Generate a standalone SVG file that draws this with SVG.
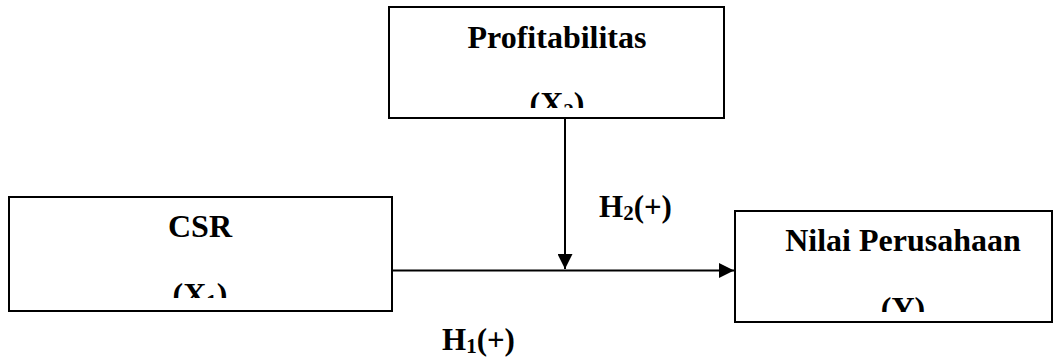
<svg xmlns="http://www.w3.org/2000/svg" width="1060" height="361" viewBox="0 0 1060 361">
<style>
.box{fill:#fff;stroke:#000;stroke-width:2}
.t{font-family:"Liberation Serif","Times New Roman",serif;font-weight:bold;font-size:32px;fill:#000;text-anchor:middle}
.h{font-family:"Liberation Serif","Times New Roman",serif;font-weight:bold;font-size:31px;fill:#000}
.ln{stroke:#000;stroke-width:2;fill:none}
</style>
<defs>
<marker id="arr" viewBox="0 0 10 10" refX="10" refY="5" markerWidth="8" markerHeight="8" markerUnits="userSpaceOnUse" orient="auto">
<path d="M0,0 L10,5 L0,10 Z" fill="#000"/>
</marker>
<marker id="arrH" viewBox="0 0 10 10" refX="10" refY="5" markerWidth="15" markerHeight="15" markerUnits="userSpaceOnUse" orient="auto">
<path d="M0,0 L10,5 L0,10 Z" fill="#000"/>
</marker>
<clipPath id="c1"><rect x="389" y="7" width="335" height="101"/></clipPath>
<clipPath id="c2"><rect x="9" y="197" width="383" height="101"/></clipPath>
<clipPath id="c3"><rect x="735" y="211" width="317" height="101"/></clipPath>
</defs>
<g id="connectors">
<line class="ln" x1="565" y1="118" x2="565" y2="269" marker-end="url(#arrH)"/>
<line class="ln" x1="392" y1="270.5" x2="734" y2="270.5" marker-end="url(#arrH)"/>
</g>
<g id="node-profitabilitas">
<rect class="box" x="389" y="7" width="335" height="111"/>
<g clip-path="url(#c1)">
<text class="t" x="557" y="48">Profitabilitas</text>
<text class="t" x="557" y="114">(X<tspan font-size="21" dy="4">2</tspan><tspan dy="-4">)</tspan></text>
</g>
</g>
<g id="node-csr">
<rect class="box" x="9" y="197" width="383" height="114"/>
<g clip-path="url(#c2)">
<text class="t" x="200" y="237">CSR</text>
<text class="t" x="200" y="305">(X<tspan font-size="21" dy="4">1</tspan><tspan dy="-4">)</tspan></text>
</g>
</g>
<g id="node-nilai">
<rect class="box" x="735" y="211" width="317" height="111"/>
<g clip-path="url(#c3)">
<text class="t" x="903" y="251">Nilai Perusahaan</text>
<text class="t" x="903" y="319">(Y)</text>
</g>
</g>
<g id="labels">
<text class="h" x="599" y="217">H<tspan font-size="21" dy="3">2</tspan><tspan dy="-3">(+)</tspan></text>
<text class="h" x="442" y="350">H<tspan font-size="21" dy="3">1</tspan><tspan dy="-3">(+)</tspan></text>
</g>
</svg>
